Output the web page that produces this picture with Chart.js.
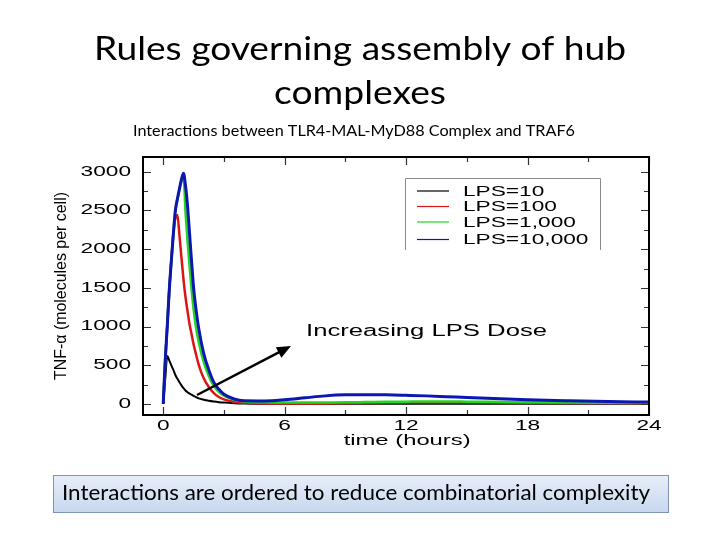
<!DOCTYPE html>
<html>
<head>
<meta charset="utf-8">
<script src="https://cdn.jsdelivr.net/npm/chart.js@4.4.1/dist/chart.umd.min.js"></script>
<style>
  html, body { margin: 0; padding: 0; background: #fff; }
  #wrap { position: relative; width: 720px; height: 540px; }
</style>
</head>
<body>
<div id="wrap"><canvas id="chart" width="720" height="540"></canvas></div>
<script>
// TNF-alpha time course for four LPS doses (slide figure)

const hours = [0, 0.1, 0.2, 0.3, 0.4, 0.5, 0.6, 0.7, 0.8, 0.9, 1.0, 1.1, 1.2, 1.3, 1.4, 1.5, 1.6,
  1.75, 2.0, 2.25, 2.5, 2.75, 3.0, 3.5, 4, 5, 6, 7, 8, 9, 10, 11, 12, 13, 14, 15, 16, 18, 20, 22, 24];

const lps10 = [0, 330, 620, 560, 500, 440, 375, 325, 280, 240, 205, 175, 152, 135, 120, 105, 92,
  73, 55, 42, 32, 24, 18, 10, 6, 3, 2, 2, 2, 2, 2, 2, 2, 2, 2, 2, 2, 2, 2, 2, 2];
const lps100 = [0, 570, 1010, 1480, 1850, 2200, 2400, 2440, 2180, 1890, 1610, 1380, 1200, 1030, 900, 770, 660,
  510, 332, 220, 140, 90, 60, 30, 15, 8, 6, 6, 8, 10, 13, 16, 18, 20, 20, 20, 19, 16, 14, 12, 10];
const lps1000 = [0, 570, 1010, 1480, 1850, 2200, 2490, 2640, 2760, 2880, 2950, 2480, 2110, 1780, 1480, 1220, 1020,
  800, 540, 360, 230, 155, 108, 55, 33, 22, 18, 18, 20, 22, 25, 28, 30, 32, 32, 30, 28, 22, 18, 15, 12];
const lps10000 = [0, 570, 1010, 1480, 1850, 2200, 2500, 2650, 2780, 2900, 2980, 2820, 2560, 2200, 1840, 1500, 1260,
  980, 650, 440, 280, 190, 125, 65, 42, 40, 55, 80, 105, 118, 120, 118, 112, 105, 95, 85, 75, 55, 42, 32, 25];

const doseLabels = ["LPS=10", "LPS=100", "LPS=1,000", "LPS=10,000"];
const xTicks = [0, 6, 12, 18, 24];
const xMinorTicks = [3, 9, 15, 21];
const yTicks = [0, 500, 1000, 1500, 2000, 2500, 3000];
const yMinorTicks = [250, 750, 1250, 1750, 2250, 2750];

const colors = ["#000000", "#dd1414", "#22d622", "#0c16b0"];
const widths = [2, 2.5, 2.5, 3];
const series = [lps10, lps100, lps1000, lps10000];

const plotFont = "'Liberation Sans', Arial, sans-serif";
const slideFont = "Lato, 'Open Sans', sans-serif";
const STRETCH = 1.62;

function stretchText(ctx, text, x, y, sx, align) {
  ctx.save();
  ctx.translate(x, y);
  ctx.scale(sx, 1);
  ctx.textAlign = align;
  ctx.fillText(text, 0, 0);
  ctx.restore();
}

function fitText(ctx, text, x, y, width, align) {
  const w = ctx.measureText(text).width;
  stretchText(ctx, text, x, y, width / w, align);
}

const slidePlugin = {
  id: "slide",
  beforeDraw(chart) {
    const ctx = chart.ctx;
    ctx.save();
    ctx.fillStyle = "#fff";
    ctx.fillRect(0, 0, chart.width, chart.height);

    ctx.fillStyle = "#000";
    ctx.textBaseline = "alphabetic";
    ctx.font = "33px " + slideFont;
    fitText(ctx, "Rules governing assembly of hub", 360, 60, 532, "center");
    fitText(ctx, "complexes", 360, 104, 172, "center");
    ctx.font = "15px " + slideFont;
    fitText(ctx, "Interactions between TLR4-MAL-MyD88 Complex and TRAF6", 354, 136, 442, "center");

    // bottom callout box
    const g = ctx.createLinearGradient(0, 475, 0, 512);
    g.addColorStop(0, "#e8eef9");
    g.addColorStop(1, "#c8d8ef");
    ctx.fillStyle = g;
    ctx.fillRect(53, 475, 615, 37);
    ctx.strokeStyle = "#7d93b8";
    ctx.lineWidth = 1;
    ctx.strokeRect(53.5, 475.5, 615, 37);
    ctx.fillStyle = "#000";
    ctx.font = "21px " + slideFont;
    fitText(ctx, "Interactions are ordered to reduce combinatorial complexity", 62, 500, 588, "left");
    ctx.restore();
  },
  afterDatasetsDraw(chart) {
    const ctx = chart.ctx;
    const a = chart.chartArea;
    const xs = chart.scales.x, ys = chart.scales.y;
    ctx.save();

    // ticks (inward, all four sides)
    ctx.strokeStyle = "#333";
    ctx.lineWidth = 1.2;
    ctx.beginPath();
    const tick = (v, len, vertical) => {
      if (vertical) {
        const px = Math.round(xs.getPixelForValue(v)) + 0.5;
        ctx.moveTo(px, a.bottom); ctx.lineTo(px, a.bottom - len);
        ctx.moveTo(px, a.top); ctx.lineTo(px, a.top + len);
      } else {
        const py = Math.round(ys.getPixelForValue(v)) + 0.5;
        ctx.moveTo(a.left, py); ctx.lineTo(a.left + len, py);
        ctx.moveTo(a.right, py); ctx.lineTo(a.right - len, py);
      }
    };
    xTicks.forEach(v => tick(v, 8, true));
    xMinorTicks.forEach(v => tick(v, 5, true));
    yTicks.forEach(v => tick(v, 8, false));
    yMinorTicks.forEach(v => tick(v, 5, false));
    ctx.stroke();

    // frame
    ctx.strokeStyle = "#000";
    ctx.lineWidth = 2;
    ctx.strokeRect(a.left, a.top, a.right - a.left, a.bottom - a.top);

    // tick labels
    ctx.fillStyle = "#000";
    ctx.font = "14px " + plotFont;
    ctx.textBaseline = "middle";
    yTicks.forEach(v => stretchText(ctx, String(v), 131, ys.getPixelForValue(v), STRETCH, "right"));
    xTicks.forEach(v => stretchText(ctx, String(v), xs.getPixelForValue(v), 426, STRETCH, "center"));
    stretchText(ctx, "time (hours)", (xs.getPixelForValue(12) + 1), 441, 1.7, "center");

    // y title (rotated, a bit taller glyphs as in the source)
    ctx.save();
    ctx.translate(61, 286);
    ctx.rotate(-Math.PI / 2);
    ctx.font = "13px " + plotFont;
    const yt = "TNF-\u03b1 (molecules per cell)";
    const tw = ctx.measureText(yt).width;
    ctx.scale(188 / tw, 1.3);
    ctx.textAlign = "center";
    ctx.fillText(yt, 0, 0);
    ctx.restore();

    // legend
    ctx.strokeStyle = "#8a8a8a";
    ctx.lineWidth = 1;
    ctx.beginPath();
    ctx.moveTo(405.5, 250); ctx.lineTo(405.5, 178.5); ctx.lineTo(600.5, 178.5); ctx.lineTo(600.5, 250);
    ctx.stroke();
    const rows = [191, 206.5, 222, 239.5];
    chart.data.datasets.forEach((ds, i) => {
      ctx.strokeStyle = ds.borderColor;
      ctx.lineWidth = 1.2;
      ctx.beginPath();
      ctx.moveTo(417, rows[i]); ctx.lineTo(449, rows[i]);
      ctx.stroke();
      ctx.fillStyle = "#000";
      ctx.font = "14px " + plotFont;
      stretchText(ctx, ds.label, 463, rows[i] + 1, STRETCH, "left");
    });

    // annotation + arrow
    ctx.font = "16px " + plotFont;
    fitText(ctx, "Increasing LPS Dose", 306, 332, 241, "left");
    const x1 = 197, y1 = 395, x2 = 291, y2 = 346;
    const ang = Math.atan2(y2 - y1, x2 - x1);
    ctx.strokeStyle = "#000";
    ctx.lineWidth = 2.5;
    ctx.beginPath();
    ctx.moveTo(x1, y1);
    ctx.lineTo(x2 - 10 * Math.cos(ang), y2 - 10 * Math.sin(ang));
    ctx.stroke();
    ctx.fillStyle = "#000";
    ctx.beginPath();
    ctx.moveTo(x2, y2);
    ctx.lineTo(x2 - 14 * Math.cos(ang) + 6 * Math.sin(ang), y2 - 14 * Math.sin(ang) - 6 * Math.cos(ang));
    ctx.lineTo(x2 - 14 * Math.cos(ang) - 6 * Math.sin(ang), y2 - 14 * Math.sin(ang) + 6 * Math.cos(ang));
    ctx.closePath();
    ctx.fill();

    ctx.restore();
  }
};

const datasets = series.map((s, i) => ({
  label: doseLabels[i],
  data: hours.map((h, k) => ({ x: h, y: s[k] })),
  borderColor: colors[i],
  borderWidth: widths[i],
  pointRadius: 0,
  fill: false,
  cubicInterpolationMode: "monotone",
  order: 3 - i
}));

new Chart(document.getElementById("chart"), {
  type: "line",
  data: { datasets },
  options: {
    responsive: false,
    animation: false,
    devicePixelRatio: 1,
    layout: { padding: { left: 143, right: 71, top: 157, bottom: 125 } },
    scales: {
      x: { type: "linear", min: -1, max: 24, display: false },
      y: { type: "linear", min: -142, max: 3190, display: false }
    },
    plugins: { legend: { display: false }, tooltip: { enabled: false } }
  },
  plugins: [slidePlugin]
});
</script>
</body>
</html>
